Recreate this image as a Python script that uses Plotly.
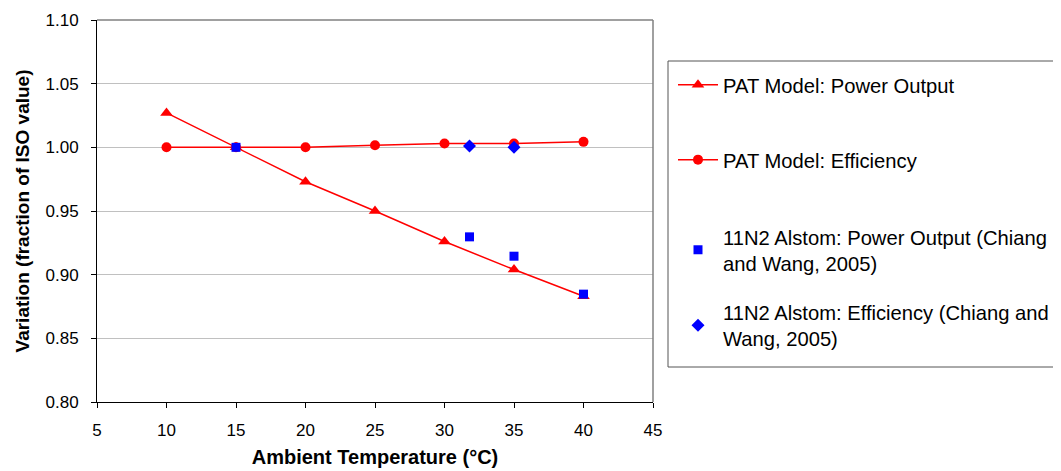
import plotly.graph_objects as go

temp_model = [10, 15, 20, 25, 30, 35, 40]
pat_power = [1.027, 1.000, 0.973, 0.950, 0.926, 0.904, 0.883]
pat_eff = [1.000, 1.000, 1.000, 1.0016, 1.003, 1.003, 1.0043]

temp_alstom = [15, 31.8, 35, 40]
alstom_power = [1.000, 0.9297, 0.9145, 0.8847]
temp_alstom_eff = [31.8, 35]
alstom_eff = [1.001, 1.000]

names = [
    "PAT Model: Power Output",
    "PAT Model: Efficiency",
    "11N2 Alstom: Power Output (Chiang<br>and Wang, 2005)",
    "11N2 Alstom: Efficiency (Chiang and<br>Wang, 2005)",
]

FONT = "Arial, Liberation Sans, sans-serif"

# figure-pixel geometry (page has 8px body margin)
L, T = 89, 12
W, H = 556, 382
FIG_W, FIG_H = 1090, 471


def px(xp):
    return (xp - 8 - L) / W


def py(yp):
    return (T + H - (yp - 8)) / H


fig = go.Figure()
fig.add_trace(go.Scatter(x=temp_model, y=pat_power, mode="lines+markers", name=names[0],
                         legend="legend",
                         line=dict(color="#ff0000", width=1.5),
                         marker=dict(symbol="triangle-up", size=11, color="#ff0000")))
fig.add_trace(go.Scatter(x=temp_model, y=pat_eff, mode="lines+markers", name=names[1],
                         legend="legend2",
                         line=dict(color="#ff0000", width=1.5),
                         marker=dict(symbol="circle", size=10, color="#ff0000")))
fig.add_trace(go.Scatter(x=temp_alstom, y=alstom_power, mode="markers", name=names[2],
                         legend="legend3",
                         marker=dict(symbol="square", size=9, color="#0000ff")))
fig.add_trace(go.Scatter(x=temp_alstom_eff, y=alstom_eff, mode="markers", name=names[3],
                         legend="legend4",
                         marker=dict(symbol="diamond", size=10, color="#0000ff")))


def leg(ycenter):
    return dict(x=px(673), xanchor="left", y=py(ycenter), yanchor="middle",
                bgcolor="rgba(0,0,0,0)", borderwidth=0,
                font=dict(family=FONT, size=20.2, color="black"), itemwidth=40)


fig.update_layout(
    width=FIG_W, height=FIG_H,
    margin=dict(l=L, r=FIG_W - L - W, t=T, b=FIG_H - T - H, autoexpand=False),
    paper_bgcolor="white", plot_bgcolor="white",
    font=dict(family=FONT, size=17, color="black"),
    showlegend=True,
    legend=leg(85),
    legend2=leg(160),
    legend3=leg(250),
    legend4=leg(325.5),
    xaxis=dict(
        range=[5, 45], dtick=5, tick0=5,
        showline=True, linecolor="black", linewidth=1, mirror=False,
        ticks="outside", ticklen=5, tickcolor="black", ticklabelstandoff=8,
        tickfont=dict(size=17), automargin=False,
        showgrid=False, zeroline=False,
        title=dict(text="<b>Ambient Temperature (°C)</b>", font=dict(size=20), standoff=10),
    ),
    yaxis=dict(
        range=[0.80, 1.10], dtick=0.05, tick0=0.80, tickformat=".2f",
        showline=True, linecolor="black", linewidth=1, mirror=False,
        ticks="outside", ticklen=5, tickcolor="black", ticklabelstandoff=9,
        tickfont=dict(size=17), automargin=False,
        showgrid=True, gridcolor="#c0c0c0", gridwidth=1, zeroline=False,
        title=dict(text="<b>Variation (fraction of ISO value)</b>", font=dict(size=19), standoff=10),
    ),
    shapes=[
        dict(type="line", xref="paper", yref="paper", x0=0, x1=1, y0=1, y1=1,
             line=dict(color="#808080", width=1.5)),
        dict(type="line", xref="paper", yref="paper", x0=1, x1=1, y0=0, y1=1,
             line=dict(color="#808080", width=1.5)),
        dict(type="rect", xref="paper", yref="paper",
             x0=px(668), x1=px(1085), y0=py(367), y1=py(61),
             line=dict(color="#555555", width=1), fillcolor="rgba(0,0,0,0)", layer="below"),
    ],
)

fig.write_html("out.html")
